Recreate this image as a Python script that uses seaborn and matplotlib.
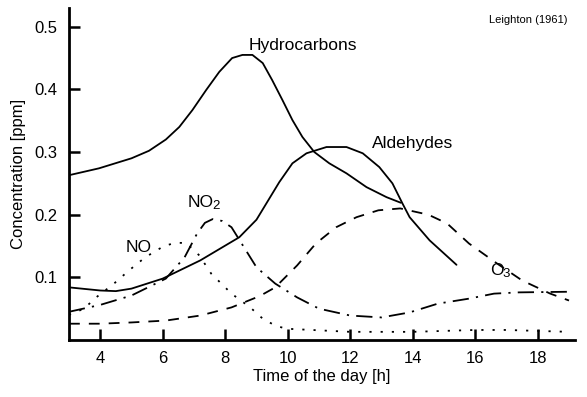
import matplotlib
matplotlib.use("Agg")
import matplotlib.pyplot as plt
import seaborn as sns
import pandas as pd

# ---- data ----
hc_x = [3.0, 3.96, 5.0, 5.56, 6.1, 6.53, 6.95, 7.39, 7.81, 8.22, 8.55, 8.87, 9.2, 9.5, 9.83,
        10.15, 10.47, 10.85, 11.33, 11.88, 12.52, 13.16, 13.62]
hc_y = [0.263, 0.274, 0.29, 0.302, 0.32, 0.34, 0.367, 0.399, 0.428, 0.45, 0.455, 0.455, 0.442, 0.415, 0.383,
        0.351, 0.324, 0.30, 0.282, 0.266, 0.244, 0.228, 0.219]

ald_x = [3.0, 4.0, 4.5, 5.0, 6.0, 7.2, 8.45, 9.0, 9.73, 10.15, 10.6, 11.24, 11.88, 12.4, 12.93, 13.35,
         13.67, 13.9, 14.54, 15.4]
ald_y = [0.084, 0.079, 0.078, 0.082, 0.098, 0.127, 0.164, 0.192, 0.252, 0.282, 0.298, 0.308, 0.308, 0.298, 0.276, 0.25,
         0.218, 0.196, 0.159, 0.12]

no2_x = [3.0, 4.0, 5.0, 6.1, 6.7, 7.1, 7.35, 7.6, 7.9, 8.2, 8.6, 9.0, 9.6, 10.3, 11.0, 12.0, 13.0, 13.9, 14.8, 15.8, 16.6, 17.4, 19.0]
no2_y = [0.045, 0.056, 0.071, 0.098, 0.132, 0.17, 0.187, 0.193, 0.19, 0.18, 0.148, 0.116, 0.09, 0.068, 0.05, 0.039, 0.036, 0.044, 0.058, 0.066, 0.074, 0.076, 0.077]

no_x = [3.0, 3.48, 3.87, 4.44, 4.92, 5.44, 6.04, 6.4, 6.75, 7.17, 7.55, 8.2, 8.8, 9.2, 9.6, 9.95, 12.0, 14.0, 16.0, 17.0, 19.0]
no_y = [0.04, 0.05, 0.068, 0.09, 0.111, 0.132, 0.15, 0.155, 0.155, 0.135, 0.106, 0.074, 0.052, 0.034, 0.023, 0.018, 0.013, 0.013, 0.016, 0.016, 0.013]

o3_x = [3.0, 4.0, 5.0, 6.1, 7.2, 8.2, 9.1, 9.6, 10.3, 10.9, 11.55, 12.2, 12.9, 13.6, 14.5, 15.1, 15.8, 16.7, 17.5, 18.4, 19.0]
o3_y = [0.026, 0.026, 0.028, 0.031, 0.039, 0.052, 0.07, 0.084, 0.119, 0.154, 0.18, 0.196, 0.207, 0.21, 0.20, 0.186, 0.154, 0.122, 0.095, 0.074, 0.063]

x_ticks = [4, 6, 8, 10, 12, 14, 16, 18]
y_ticks = [0.1, 0.2, 0.3, 0.4, 0.5]

# centred labels
labels = [
    ("Hydrocarbons", 10.5, 0.47),
    ("Aldehydes", 14.0, 0.313),
    ("NO", 5.24, 0.148),
]
# labels with subscript: text, subscript, left x, baseline y
sub_labels = [
    ("NO", "2", 6.8, 0.212),
    ("O", "3", 16.46, 0.103),
]

sns.set_style("ticks")
plt.rcParams["font.family"] = ["Liberation Sans", "DejaVu Sans"]
for k in ["text.color", "axes.labelcolor", "xtick.color", "ytick.color", "axes.edgecolor"]:
    plt.rcParams[k] = "black"

fig = plt.figure(figsize=(5.87, 3.97), dpi=100)
ax = fig.add_axes([0.1175, 0.1436, 0.8625, 0.8364])

series = [
    (hc_x, hc_y, "-"),
    (ald_x, ald_y, "-"),
    (no2_x, no2_y, (0, (9, 4, 1.2, 4))),
    (no_x, no_y, (0, (1.2, 5))),
    (o3_x, o3_y, (0, (6, 5))),
]
for xs, ys, ls in series:
    df = pd.DataFrame({"x": xs, "y": ys})
    sns.lineplot(data=df, x="x", y="y", ax=ax, color="black", linewidth=1.3,
                 linestyle=ls, sort=False, estimator=None)

ax.set_xlim(3, 19.2)
ax.set_ylim(0, 0.53)

for txt, tx, ty in labels:
    ax.text(tx, ty, txt, fontsize=12.5, ha="center", va="center")

fig.canvas.draw()
renderer = fig.canvas.get_renderer()
for txt, sub, tx, ty in sub_labels:
    t = ax.text(tx, ty, txt, fontsize=12.5, ha="left", va="baseline")
    bb = t.get_window_extent(renderer=renderer)
    sx, _ = ax.transData.inverted().transform((bb.x1 - 1, 0))
    ax.annotate(sub, xy=(sx, ty), xytext=(0, -1), textcoords="offset points",
                fontsize=9.5, ha="left", va="baseline")

ax.text(0.985, 0.965, "Leighton (1961)", transform=ax.transAxes, fontsize=8,
        ha="right", va="center")

ax.set_xticks(x_ticks)
ax.set_yticks(y_ticks)
ax.set_xticklabels([str(t) for t in x_ticks])
ax.set_yticklabels([f"{t:.1f}" for t in y_ticks])
ax.set_xlabel("Time of the day [h]", fontsize=12, labelpad=2)
ax.set_ylabel("Concentration [ppm]", fontsize=12, labelpad=6)
ax.tick_params(direction="in", length=8, width=1.8, labelsize=12, pad=8)
for s in ["top", "right"]:
    ax.spines[s].set_visible(False)
for s in ["left", "bottom"]:
    ax.spines[s].set_linewidth(2)

fig.savefig("out.png", dpi=100)
